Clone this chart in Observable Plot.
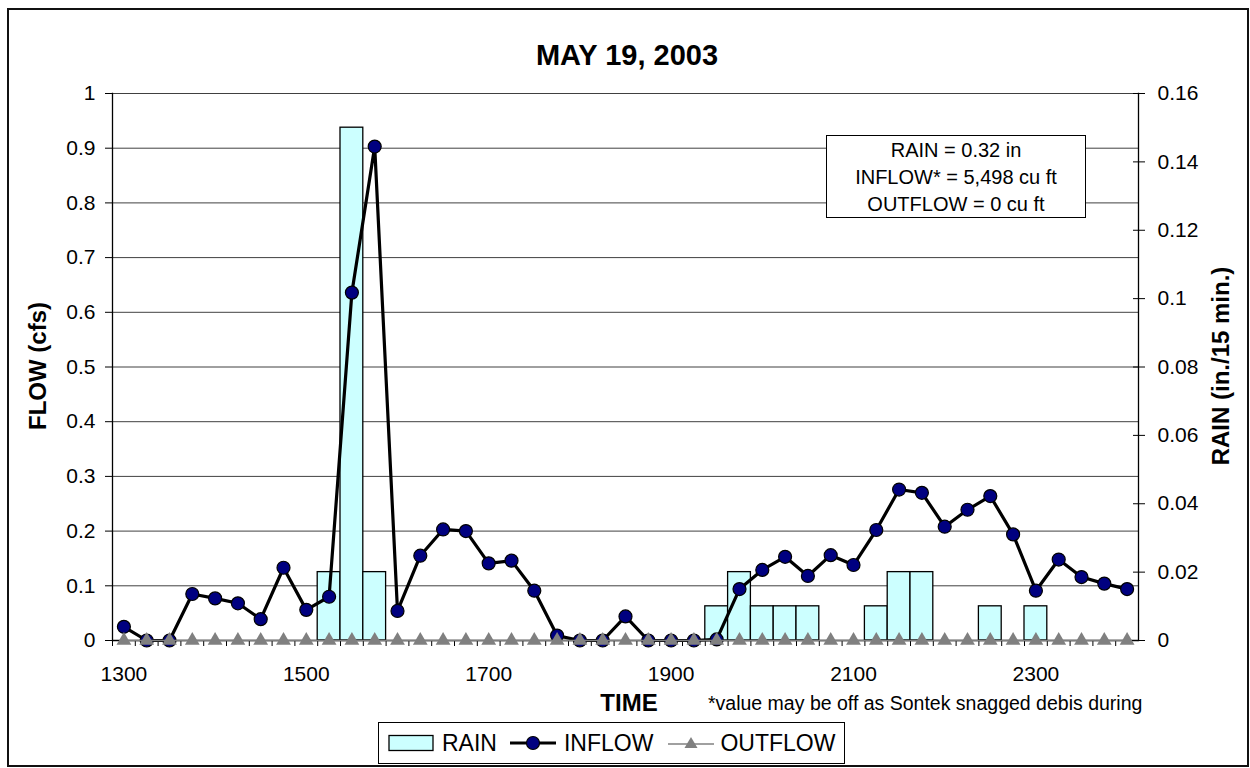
<!DOCTYPE html>
<html><head><meta charset="utf-8">
<script src="https://cdn.jsdelivr.net/npm/d3@7"></script>
<script src="https://cdn.jsdelivr.net/npm/@observablehq/plot@0.6"></script>
<style>
body{margin:0;background:#fff;font-family:"Liberation Sans",Arial,sans-serif;}
#wrap{position:relative;width:1250px;height:768px;overflow:hidden;}
#wrap svg{position:absolute;left:0;top:0;}
.ov{position:absolute;white-space:nowrap;color:#000;}
.c{transform:translate(-50%,-50%);}
.rot{transform:translate(-50%,-50%) rotate(-90deg);}
#border{position:absolute;left:7px;top:8px;width:1238px;height:755px;border:2px solid #111;}
#note{position:absolute;left:826px;top:135px;width:258px;height:80px;border:1.5px solid #000;background:#fff;
 font-size:20px;text-align:center;line-height:27px;padding-top:1px;}
#legend{position:absolute;left:378px;top:722px;width:465px;height:40px;border:1.5px solid #000;background:#fff;
 display:flex;align-items:center;font-size:23px;}
#legend svg{position:static;}
</style></head><body><div id="wrap"></div>
<script>
// ---- data ----
const times = ["1300","1315","1330","1345","1400","1415","1430","1445","1500","1515","1530","1545",
  "1600","1615","1630","1645","1700","1715","1730","1745","1800","1815","1830","1845",
  "1900","1915","1930","1945","2000","2015","2030","2045","2100","2115","2130","2145",
  "2200","2215","2230","2245","2300","2315","2330","2345","2400"];
const inflow = [0.025,0,0,0.085,0.077,0.068,0.039,0.133,0.056,0.080,
  0.636,0.903,0.054,0.155,0.203,0.200,0.141,0.146,0.091,0.009,
  0,0,0.044,0,0,0,0.002,0.094,0.129,0.153,
  0.118,0.156,0.138,0.202,0.276,0.270,0.208,0.239,0.264,0.194,
  0.091,0.148,0.116,0.104,0.094];
const rain = [0,0,0,0,0,0,0,0,0,0.02,
  0.15,0.02,0,0,0,0,0,0,0,0,
  0,0,0,0,0,0,0.01,0.02,0.01,0.01,
  0.01,0,0,0.01,0.02,0.02,0,0,0.01,0,
  0.01,0,0,0,0];
const outflow = [0,0,0,0,0,0,0,0,0,0,0,0,0,0,0,0,0,0,0,0,0,0,0,
  0,0,0,0,0,0,0,0,0,0,0,0,0,0,0,0,0,0,0,0,0,0];
const flowTicks = [0,0.1,0.2,0.3,0.4,0.5,0.6,0.7,0.8,0.9,1];
const rainTicks = [0,0.02,0.04,0.06,0.08,0.1,0.12,0.14,0.16];
const timeLabels = ["1300","1500","1700","1900","2100","2300"];
const RAIN_MAX = 0.16;

const data = times.map((t, i) => ({time: t, inflow: inflow[i], rain: rain[i], outflow: outflow[i]}));

const W = 1250, H = 768, mL = 112, mR = 112, mT = 93, mB = 128;
const band = (W - mL - mR) / times.length;

const chart = Plot.plot({
  width: W, height: H,
  marginLeft: mL, marginRight: mR, marginTop: mT, marginBottom: mB,
  x: {type: "band", domain: times, padding: 0, axis: null},
  y: {domain: [0, 1], axis: null},
  style: {fontFamily: "'Liberation Sans', Arial, sans-serif", fontSize: "21px", color: "black", background: "transparent"},
  marks: [
    Plot.gridY(flowTicks.slice(1), {stroke: "#000", strokeOpacity: 0.75, strokeWidth: 1}),
    Plot.barY(data.filter(d => d.rain > 0), {x: "time", y: d => d.rain / RAIN_MAX, fill: "#CCFFFF", stroke: "#000", strokeWidth: 1.3}),
    Plot.frame({anchor: "left", stroke: "#000", strokeWidth: 1.3}),
    Plot.frame({anchor: "right", stroke: "#000", strokeWidth: 1.3}),
    Plot.ruleY([0], {stroke: "#000", strokeWidth: 1.3}),
    Plot.axisY(flowTicks, {anchor: "left", tickSize: 7, tickPadding: 10, tickFormat: d => String(d), label: null}),
    Plot.axisY(rainTicks.map(v => v / RAIN_MAX), {anchor: "right", tickSize: 12, insetRight: 6, fill: "none", label: null}),
    Plot.axisY(rainTicks.map(v => v / RAIN_MAX), {anchor: "right", tickSize: 6, stroke: "none", tickPadding: 13,
      tickFormat: d => String(+(d * RAIN_MAX).toFixed(2)), label: null}),
    Plot.axisX(times, {anchor: "bottom", tickSize: 6, dx: -band / 2, fill: "none", label: null}),
    Plot.axisX(timeLabels, {anchor: "bottom", tickSize: 0, tickPadding: 26, label: null}),
    Plot.line(data, {x: "time", y: "inflow", stroke: "#000", strokeWidth: 3.2}),
    Plot.dot(data, {x: "time", y: "inflow", r: 6.5, fill: "#000080", stroke: "#000", strokeWidth: 1.2}),
    Plot.line(data, {x: "time", y: "outflow", stroke: "#808080", strokeWidth: 1.5}),
    Plot.dot(data, {x: "time", y: "outflow", symbol: "triangle", r: 5.5, fill: "#808080", stroke: "none"})
  ]
});

const wrap = document.getElementById("wrap");
wrap.appendChild(chart);

function addText(txt, x, y, css, cls) {
  const d = document.createElement("div");
  d.className = "ov " + (cls || "c");
  d.textContent = txt;
  d.style.left = x + "px"; d.style.top = y + "px";
  Object.assign(d.style, css || {});
  wrap.appendChild(d);
  return d;
}
const border = document.createElement("div"); border.id = "border"; wrap.appendChild(border);

addText("MAY 19, 2003", 627, 55, {fontSize: "29px", fontWeight: "bold"});
addText("FLOW (cfs)", 38, 366, {fontSize: "24px", fontWeight: "bold"}, "rot");
addText("RAIN (in./15 min.)", 1221, 366, {fontSize: "24px", fontWeight: "bold"}, "rot");
addText("TIME", 629, 703, {fontSize: "24px", fontWeight: "bold"});
addText("*value may be off as Sontek snagged debis during", 708, 703, {fontSize: "19.5px", transform: "translate(0,-50%)"}, "x");

const note = document.createElement("div"); note.id = "note";
note.innerHTML = ["RAIN = 0.32 in", "INFLOW* = 5,498 cu ft", "OUTFLOW = 0 cu ft"].map(s => "<div>" + s + "</div>").join("");
wrap.appendChild(note);

const legend = document.createElement("div"); legend.id = "legend";
legend.innerHTML =
  '<svg width="46" height="18" style="margin-left:9px"><rect x="1" y="1.5" width="44" height="15" fill="#CCFFFF" stroke="#000" stroke-width="1.3"/></svg>' +
  '<span style="margin-left:8px">RAIN</span>' +
  '<svg width="46" height="20" style="margin-left:13px"><line x1="0" y1="10" x2="46" y2="10" stroke="#000" stroke-width="3.2"/><circle cx="23" cy="10" r="6.5" fill="#000080" stroke="#000" stroke-width="1.2"/></svg>' +
  '<span style="margin-left:8px">INFLOW</span>' +
  '<svg width="46" height="20" style="margin-left:15px"><line x1="0" y1="11" x2="46" y2="11" stroke="#808080" stroke-width="1.5"/><path d="M23,4 L29.5,15 L16.5,15 Z" fill="#808080"/></svg>' +
  '<span style="margin-left:6px">OUTFLOW</span>';
wrap.appendChild(legend);
</script></body></html>
